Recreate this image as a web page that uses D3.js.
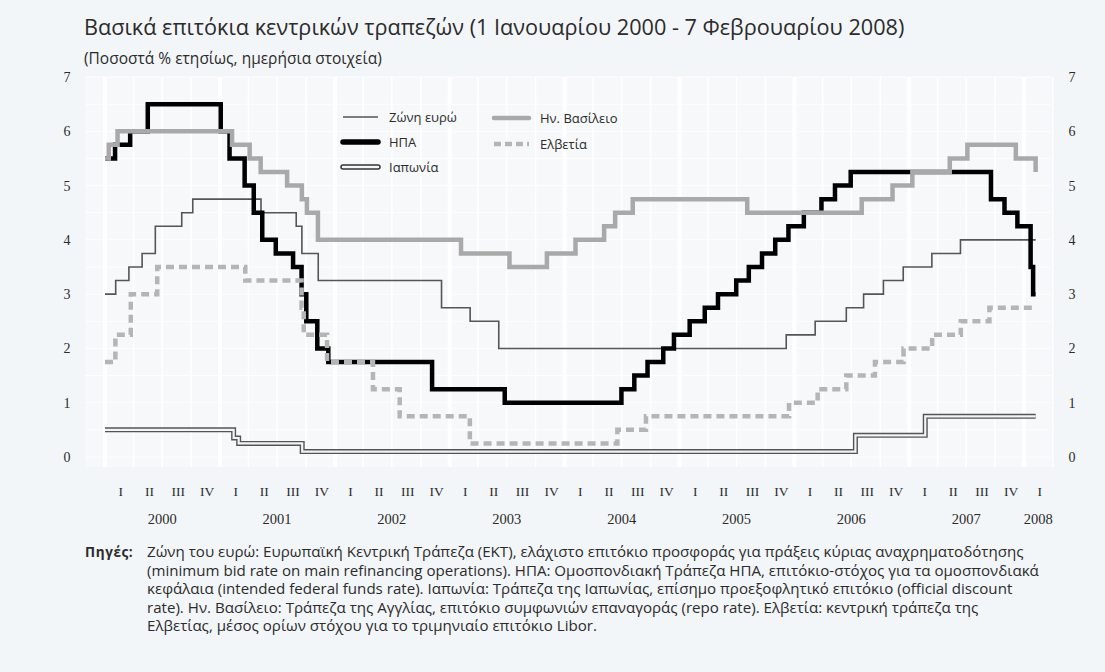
<!DOCTYPE html>
<html>
<head>
<meta charset="utf-8">
<script src="https://cdn.jsdelivr.net/npm/d3@7"></script>
<style>
  html, body { margin: 0; padding: 0; background: #f3f6f9; }
  svg { display: block; }
</style>
</head>
<body>
<svg id="chart" width="1105" height="672"></svg>
<script>
// ---------------- DATA ----------------
const seriesNames = ["Ζώνη ευρώ", "ΗΠΑ", "Ιαπωνία", "Ην. Βασίλειο", "Ελβετία"];
const endDate = "2008-02-07";

const euroSteps = [
  ["2000-01-01", 3.00], ["2000-02-04", 3.25], ["2000-03-17", 3.50], ["2000-04-28", 3.75],
  ["2000-06-09", 4.25], ["2000-09-01", 4.50], ["2000-10-06", 4.75], ["2001-05-11", 4.50],
  ["2001-08-31", 4.25], ["2001-09-18", 3.75], ["2001-11-09", 3.25], ["2002-12-06", 2.75],
  ["2003-03-07", 2.50], ["2003-06-06", 2.00], ["2005-12-06", 2.25], ["2006-03-08", 2.50],
  ["2006-06-15", 2.75], ["2006-08-09", 3.00], ["2006-10-11", 3.25], ["2006-12-13", 3.50],
  ["2007-03-14", 3.75], ["2007-06-13", 4.00]
];
const usSteps = [
  ["2000-01-01", 5.50], ["2000-02-02", 5.75], ["2000-03-21", 6.00], ["2000-05-16", 6.50],
  ["2001-01-03", 6.00], ["2001-01-31", 5.50], ["2001-03-20", 5.00], ["2001-04-18", 4.50],
  ["2001-05-15", 4.00], ["2001-06-27", 3.75], ["2001-08-21", 3.50], ["2001-09-17", 3.00],
  ["2001-10-02", 2.50], ["2001-11-06", 2.00], ["2001-12-11", 1.75], ["2002-11-06", 1.25],
  ["2003-06-25", 1.00], ["2004-06-30", 1.25], ["2004-08-10", 1.50], ["2004-09-21", 1.75],
  ["2004-11-10", 2.00], ["2004-12-14", 2.25], ["2005-02-02", 2.50], ["2005-03-22", 2.75],
  ["2005-05-03", 3.00], ["2005-06-30", 3.25], ["2005-08-09", 3.50], ["2005-09-20", 3.75],
  ["2005-11-01", 4.00], ["2005-12-13", 4.25], ["2006-01-31", 4.50], ["2006-03-28", 4.75],
  ["2006-05-10", 5.00], ["2006-06-29", 5.25], ["2007-09-18", 4.75], ["2007-10-31", 4.50],
  ["2007-12-11", 4.25], ["2008-01-22", 3.50], ["2008-01-30", 3.00]
];
const japanSteps = [
  ["2000-01-01", 0.50], ["2001-02-13", 0.35], ["2001-03-01", 0.25], ["2001-09-19", 0.10],
  ["2006-07-14", 0.40], ["2007-02-21", 0.75]
];
const ukSteps = [
  ["2000-01-01", 5.50], ["2000-01-13", 5.75], ["2000-02-10", 6.00], ["2001-02-08", 5.75],
  ["2001-04-05", 5.50], ["2001-05-10", 5.25], ["2001-08-02", 5.00], ["2001-09-18", 4.75],
  ["2001-10-04", 4.50], ["2001-11-08", 4.00], ["2003-02-06", 3.75], ["2003-07-10", 3.50],
  ["2003-11-06", 3.75], ["2004-02-05", 4.00], ["2004-05-06", 4.25], ["2004-06-10", 4.50],
  ["2004-08-05", 4.75], ["2005-08-04", 4.50], ["2006-08-03", 4.75], ["2006-11-09", 5.00],
  ["2007-01-11", 5.25], ["2007-05-10", 5.50], ["2007-07-05", 5.75], ["2007-12-06", 5.50],
  ["2008-02-07", 5.25]
];
const swissSteps = [
  ["2000-01-01", 1.75], ["2000-02-03", 2.25], ["2000-03-23", 3.00], ["2000-06-15", 3.50],
  ["2001-03-22", 3.25], ["2001-09-17", 2.75], ["2001-09-24", 2.25], ["2001-12-07", 1.75],
  ["2002-05-02", 1.25], ["2002-07-26", 0.75], ["2003-03-06", 0.25], ["2004-06-17", 0.50],
  ["2004-09-16", 0.75], ["2005-12-15", 1.00], ["2006-03-16", 1.25], ["2006-06-15", 1.50],
  ["2006-09-14", 1.75], ["2006-12-14", 2.00], ["2007-03-15", 2.25], ["2007-06-14", 2.50],
  ["2007-09-13", 2.75]
];

const yTicks = [0, 1, 2, 3, 4, 5, 6, 7];
const quarterLabels = ["I", "II", "III", "IV"];
const years = [2000, 2001, 2002, 2003, 2004, 2005, 2006, 2007, 2008];

const titleText = "Βασικά επιτόκια κεντρικών τραπεζών (1 Ιανουαρίου 2000 - 7 Φεβρουαρίου 2008)";
const subtitleText = "(Ποσοστά % ετησίως, ημερήσια στοιχεία)";
const sourceLabel = "Πηγές:";
const sourceLines = [
  "Ζώνη του ευρώ: Ευρωπαϊκή Κεντρική Τράπεζα (ΕΚΤ), ελάχιστο επιτόκιο προσφοράς για πράξεις κύριας αναχρηματοδότησης",
  "(minimum bid rate on main refinancing operations). ΗΠΑ: Ομοσπονδιακή Τράπεζα ΗΠΑ, επιτόκιο-στόχος για τα ομοσπονδιακά",
  "κεφάλαια (intended federal funds rate). Ιαπωνία: Τράπεζα της Ιαπωνίας, επίσημο προεξοφλητικό επιτόκιο (official discount",
  "rate). Ην. Βασίλειο: Τράπεζα της Αγγλίας, επιτόκιο συμφωνιών επαναγοράς (repo rate). Ελβετία: κεντρική τράπεζα της",
  "Ελβετίας, μέσος ορίων στόχου για το τριμηνιαίο επιτόκιο Libor."
];

// ---------------- LAYOUT ----------------
const svg = d3.select("#chart");
const parse = d3.timeParse("%Y-%m-%d");
const sansFont = "'Open Sans', 'Noto Sans', 'DejaVu Sans', sans-serif";
const serifFont = "'Liberation Serif', 'DejaVu Serif', serif";
const textColor = "#2b2b2b";

const x = d3.scaleTime()
  .domain([new Date(2000, 0, 1), new Date(2008, 0, 1)])
  .range([105, 1024]);
const y = d3.scaleLinear().domain([0, 7]).range([457, 77]);

const plot = { left: 85, right: 1051, top: 77, bottom: 467 };

function fitText(sel, width) {
  const node = sel.node();
  const fs = parseFloat(sel.attr("font-size"));
  const len = node.getComputedTextLength();
  if (len > 0) sel.attr("font-size", (fs * width / len).toFixed(2));
}

// Title
svg.append("text")
  .attr("x", 84).attr("y", 35)
  .attr("font-family", sansFont).attr("font-size", 20)
  .attr("fill", textColor)
  .text(titleText)
  .call(fitText, 821);

svg.append("text")
  .attr("x", 84).attr("y", 64)
  .attr("font-family", sansFont).attr("font-size", 11.5)
  .attr("fill", textColor)
  .text(subtitleText)
  .call(fitText, 298);

// Plot background with white grid
svg.append("rect")
  .attr("x", plot.left).attr("y", plot.top)
  .attr("width", plot.right - plot.left).attr("height", plot.bottom - plot.top)
  .attr("fill", "#f6f8fa");

const grid = svg.append("g");
grid.selectAll("line.h").data(yTicks.concat(d3.range(0.5, 7, 1))).join("line")
  .attr("x1", plot.left).attr("x2", plot.right)
  .attr("y1", d => y(d)).attr("y2", d => y(d))
  .attr("stroke", "#ffffff").attr("stroke-width", 1).attr("opacity", 0.9);

const quarterStarts = [];
for (let yr = 2000; yr <= 2008; yr++) {
  for (let q = 0; q < 4; q++) {
    const d = new Date(yr, q * 3, 1);
    if (d <= new Date(2008, 3, 1)) quarterStarts.push(d);
  }
}
grid.selectAll("line.v").data(quarterStarts).join("line")
  .attr("x1", d => x(d)).attr("x2", d => x(d))
  .attr("y1", plot.top).attr("y2", plot.bottom)
  .attr("stroke", "#ffffff")
  .attr("stroke-width", d => d.getMonth() === 0 ? 4 : 1.5);

// Y tick labels (left and right)
const yLabels = svg.append("g")
  .attr("font-family", serifFont).attr("font-size", 14).attr("fill", textColor)
  .attr("text-anchor", "middle");
yLabels.selectAll("text.l").data(yTicks).join("text")
  .attr("x", 67).attr("y", d => y(d) + 5).text(d => d);
yLabels.selectAll("text.r").data(yTicks).join("text")
  .attr("x", 1072).attr("y", d => y(d) + 5).text(d => d);

// X axis quarter labels
const quarterData = [];
years.forEach(yr => {
  const nq = yr === 2008 ? 1 : 4;
  for (let q = 0; q < nq; q++) {
    const a = new Date(yr, q * 3, 1), b = new Date(yr, q * 3 + 3, 1);
    quarterData.push({ label: quarterLabels[q], xm: (x(a) + x(b)) / 2 });
  }
});
const xLabels = svg.append("g")
  .attr("font-family", serifFont).attr("fill", textColor).attr("text-anchor", "middle");
xLabels.selectAll("text.q").data(quarterData).join("text")
  .attr("font-size", 13.5)
  .attr("x", d => d.xm + 1.5).attr("y", 496).text(d => d.label);
xLabels.selectAll("text.y").data(years).join("text")
  .attr("font-size", 14.5)
  .attr("x", d => d === 2008
      ? (x(new Date(2008, 0, 1)) + x(new Date(2008, 3, 1))) / 2
      : x(new Date(d, 6, 1)))
  .attr("y", 524).text(d => d);

// ---------------- LINES ----------------
function toPoints(steps) {
  const pts = steps.map(([d, v]) => ({ date: parse(d), value: v }));
  const last = pts[pts.length - 1];
  pts.push({ date: parse(endDate), value: last.value });
  return pts;
}
const line = d3.line().x(d => x(d.date)).y(d => y(d.value)).curve(d3.curveStepAfter);
const lines = svg.append("g").attr("fill", "none");

// Euro area: thin dark line
lines.append("path").datum(toPoints(euroSteps))
  .attr("d", line).attr("stroke", "#555").attr("stroke-width", 1.6);
// Japan: double line
lines.append("path").datum(toPoints(japanSteps))
  .attr("d", line).attr("stroke", "#555").attr("stroke-width", 5);
lines.append("path").datum(toPoints(japanSteps))
  .attr("d", line).attr("stroke", "#f2f4f6").attr("stroke-width", 2.2);
// USA: thick black
lines.append("path").datum(toPoints(usSteps))
  .attr("d", line).attr("stroke", "#000").attr("stroke-width", 4.5);
// UK: thick light gray
lines.append("path").datum(toPoints(ukSteps))
  .attr("d", line).attr("stroke", "#a9a9a9").attr("stroke-width", 4.5);
// Switzerland: dashed light gray
lines.append("path").datum(toPoints(swissSteps))
  .attr("d", line).attr("stroke", "#b5b5b5").attr("stroke-width", 4.5)
  .attr("stroke-dasharray", "8,5");

// ---------------- LEGEND ----------------
const legend = svg.append("g").attr("font-family", sansFont).attr("font-size", 13)
  .attr("fill", textColor);
const legendItems = [
  { name: seriesNames[0], x: 343, y: 117, kind: "euro" },
  { name: seriesNames[1], x: 343, y: 142, kind: "us" },
  { name: seriesNames[2], x: 343, y: 167, kind: "japan" },
  { name: seriesNames[3], x: 494, y: 118, kind: "uk" },
  { name: seriesNames[4], x: 494, y: 144, kind: "swiss" }
];
legendItems.forEach(it => {
  const g = legend.append("g");
  const ln = (stroke, w, extra) => {
    const l = g.append("line").attr("x1", it.x).attr("x2", it.x + 35)
      .attr("y1", it.y).attr("y2", it.y)
      .attr("stroke", stroke).attr("stroke-width", w);
    if (extra) extra(l);
    return l;
  };
  if (it.kind === "euro") ln("#555", 1.6);
  if (it.kind === "us") ln("#000", 5.5, l => l.attr("stroke-linecap", "round"));
  if (it.kind === "japan") {
    ln("#333", 5.5, l => l.attr("stroke-linecap", "round"));
    ln("#f4f6f8", 2.5, l => l.attr("stroke-linecap", "round"));
  }
  if (it.kind === "uk") ln("#a9a9a9", 4.5, l => l.attr("stroke-linecap", "round"));
  if (it.kind === "swiss") ln("#b5b5b5", 4.5, l => l.attr("stroke-dasharray", "7,4"));
  g.append("text").attr("x", it.x + 46).attr("y", it.y + 4.5).text(it.name);
});

// ---------------- SOURCES ----------------
const src = svg.append("g").attr("font-family", sansFont).attr("fill", textColor);
src.append("text").attr("x", 85).attr("y", 557)
  .attr("font-size", 13.5).attr("font-weight", "bold")
  .attr("letter-spacing", 0.6).text(sourceLabel);
const first = src.append("text").attr("x", 147).attr("y", 557)
  .attr("font-size", 12.5).text(sourceLines[0])
  .call(fitText, 877);
const srcSize = first.attr("font-size");
sourceLines.slice(1).forEach((t, i) => {
  src.append("text").attr("x", 147).attr("y", 557 + (i + 1) * 18.5)
    .attr("font-size", srcSize).text(t);
});
</script>
</body>
</html>
